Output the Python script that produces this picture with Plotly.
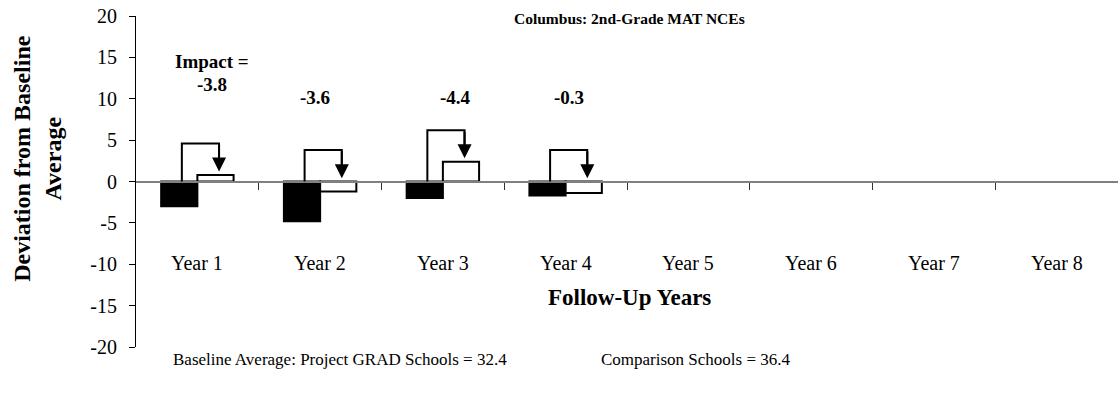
import plotly.graph_objects as go

# Deviation from baseline average, by follow-up year
years = ["Year 1", "Year 2", "Year 3", "Year 4", "Year 5", "Year 6", "Year 7", "Year 8"]
grad_dev = [-3.0, -4.8, -2.0, -1.7]        # Project GRAD schools
comparison_dev = [0.8, -1.2, 2.4, -1.4]    # Comparison schools
impact_labels = ["-3.8", "-3.6", "-4.4", "-0.3"]
y_ticks = [20, 15, 10, 5, 0, -5, -10, -15, -20]

FONT = "Liberation Serif, Times New Roman, serif"
idx = list(range(len(grad_dev)))

# horizontal nudges (in category units) for the impact text boxes
label_nudge = [0.12, -0.04, 0.10, 0.03]

fig = go.Figure()
fig.add_trace(go.Bar(
    x=idx, y=grad_dev, name="Project GRAD Schools",
    marker=dict(color="black", line=dict(color="black", width=2)),
))
fig.add_trace(go.Bar(
    x=idx, y=comparison_dev, name="Comparison Schools",
    marker=dict(color="white", line=dict(color="black", width=2)),
))

shapes = []
annotations = []
half = 0.293 / 2
for i, (g, c) in enumerate(zip(grad_dev, comparison_dev)):
    x0 = i - half + 0.02
    x1 = i + half + 0.03
    top = max(0, c) + 3.8
    tip = max(0, c) + 0.4
    # bracket from the GRAD bar over to the comparison bar
    shapes.append(dict(
        type="path", xref="x", yref="y",
        path=f"M{x0},0 L{x0},{top} L{x1},{top} L{x1},{tip + 1}",
        line=dict(color="black", width=2),
    ))
    annotations.append(dict(
        x=x1, y=tip, ax=x1, ay=top, xref="x", yref="y", axref="x", ayref="y",
        text="", showarrow=True, arrowhead=2, arrowsize=1.4, arrowwidth=2,
        arrowcolor="black", standoff=0,
    ))
    annotations.append(dict(
        x=i + label_nudge[i], y=11.7 if i == 0 else 10.2, xref="x", yref="y",
        text=f"<b>{impact_labels[i]}</b>", showarrow=False,
        font=dict(family=FONT, size=19, color="black"),
    ))

annotations.append(dict(
    x=0.12, y=14.5, xref="x", yref="y", text="<b>Impact =</b>", showarrow=False,
    font=dict(family=FONT, size=19, color="black"),
))

for i, name in enumerate(years):
    annotations.append(dict(
        x=i, y=-9.8, xref="x", yref="y", text=name, showarrow=False,
        font=dict(family=FONT, size=20, color="black"),
    ))

annotations += [
    dict(x=0.503, y=-14.0, xref="paper", yref="y", yanchor="middle",
         text="<b>Follow-Up Years</b>",
         showarrow=False, font=dict(family=FONT, size=23, color="black")),
    dict(x=0.503, y=1.0, xref="paper", yref="paper", yanchor="middle",
         text="<b>Columbus: 2nd-Grade MAT NCEs</b>", showarrow=False,
         yshift=-2, font=dict(family=FONT, size=15.5, color="black")),
    dict(x=-0.1, y=0.571, xref="paper", yref="paper", xanchor="center",
         yanchor="middle", textangle=-90,
         text="<b>Deviation from Baseline<br>Average</b>", showarrow=False,
         font=dict(family=FONT, size=24, color="black")),
    dict(x=0.036, y=-20, xref="paper", yref="y", xanchor="left", yanchor="top",
         yshift=-1, text="Baseline Average: Project GRAD Schools = 32.4",
         showarrow=False, font=dict(family=FONT, size=17, color="black")),
    dict(x=0.471, y=-20, xref="paper", yref="y", xanchor="left", yanchor="top",
         yshift=-1, text="Comparison Schools = 36.4",
         showarrow=False, font=dict(family=FONT, size=17, color="black")),
]

fig.update_layout(
    width=1120, height=394,
    margin=dict(l=136, r=2, t=16, b=47),
    paper_bgcolor="white", plot_bgcolor="white",
    barmode="group", bargap=0.41, bargroupgap=0,
    showlegend=False,
    shapes=shapes, annotations=annotations,
    font=dict(family=FONT, size=16, color="black"),
    xaxis=dict(
        range=[-0.5, 7.5], anchor="free", position=0.5,
        showline=True, linecolor="#808080", linewidth=2,
        tickmode="array", tickvals=[0.5 + k for k in range(7)],
        ticks="outside", ticklen=7, tickwidth=1, tickcolor="#333333",
        showticklabels=False, showgrid=False, zeroline=False,
    ),
    yaxis=dict(
        range=[-20, 20], tickmode="array", tickvals=y_ticks,
        ticktext=[str(v) for v in y_ticks],
        ticks="outside", ticklen=6, tickcolor="black", ticklabelstandoff=8,
        showline=True, linecolor="black", linewidth=1,
        showgrid=False, zeroline=False,
        tickfont=dict(family=FONT, size=20, color="black"),
    ),
)

fig.write_html("out.html")
